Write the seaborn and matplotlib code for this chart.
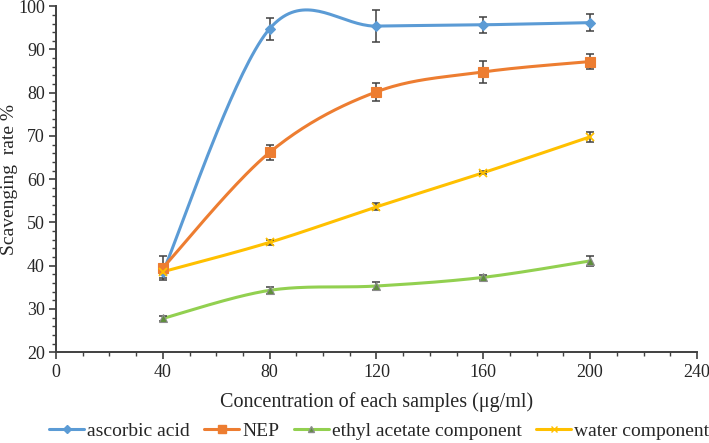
import numpy as np
import pandas as pd
import matplotlib
matplotlib.use("Agg")
import matplotlib.pyplot as plt
from matplotlib.lines import Line2D
from matplotlib.ticker import MultipleLocator
import seaborn as sns

konzentration = [40, 80, 120, 160, 200]
serien = ["ascorbic acid", "NEP", "ethyl acetate component", "water component"]
ascorbic = [38.5, 94.8, 95.4, 95.7, 96.2]
ascorbic_err = [1.4, 2.5, 3.7, 1.9, 2.0]
nep = [39.5, 66.2, 80.2, 84.8, 87.2]
nep_err = [2.7, 1.8, 2.1, 2.6, 1.8]
ethyl = [27.8, 34.3, 35.3, 37.3, 41.1]
ethyl_err = [0.6, 0.8, 0.9, 0.5, 1.2]
water = [38.6, 45.4, 53.6, 61.5, 69.8]
water_err = [0.6, 0.6, 0.8, 0.3, 1.2]

werte = [ascorbic, nep, ethyl, water]
fehler = [ascorbic_err, nep_err, ethyl_err, water_err]
farben = ["#5B9BD5", "#ED7D31", "#92D050", "#FFC000"]
marker = ["D", "s", "^", "x"]
marker_groesse = [5, 7, 6, 6]
marker_face = ["#5B9BD5", "#ED7D31", "#5E8F3A", "#FFC000"]
marker_edge = ["#5B9BD5", "#ED7D31", "#8C8C8C", "#FFC000"]


def glatte_kurve(x, y, n=40):
    """Excel-artige Glättung (Bezier mit Catmull-Rom-Kontrollpunkten)"""
    p = np.column_stack([x, y]).astype(float)
    xs, ys = [], []
    for i in range(len(p) - 1):
        p0 = p[i - 1] if i > 0 else p[i]
        p1, p2 = p[i], p[i + 1]
        p3 = p[i + 2] if i + 2 < len(p) else p[i + 1]
        c1 = p1 + (p2 - p0) / 6
        c2 = p2 - (p3 - p1) / 6
        t = np.linspace(0, 1, n)[:, None]
        b = (1 - t) ** 3 * p1 + 3 * (1 - t) ** 2 * t * c1 + 3 * (1 - t) * t ** 2 * c2 + t ** 3 * p2
        xs.extend(b[:, 0])
        ys.extend(b[:, 1])
    return np.array(xs), np.array(ys)


sns.set_style("ticks")
plt.rcParams["font.family"] = ["Liberation Serif", "DejaVu Serif"]

fig = plt.figure(figsize=(7.09, 4.43), dpi=100)
ax = fig.add_axes([0.079, 0.205, 0.904, 0.781])

kurven = []
for name, y in zip(serien, werte):
    kx, ky = glatte_kurve(konzentration, y)
    kurven.append(pd.DataFrame({"x": kx, "y": ky, "serie": name}))
df_kurven = pd.concat(kurven, ignore_index=True)

sns.lineplot(data=df_kurven, x="x", y="y", hue="serie", palette=dict(zip(serien, farben)),
             linewidth=2.2, sort=False, estimator=None, units="serie", legend=False, ax=ax)

for name, y, e, f, m, ms, mf, me in zip(serien, werte, fehler, farben, marker,
                                        marker_groesse, marker_face, marker_edge):
    ax.errorbar(konzentration, y, yerr=e, fmt="none", ecolor="#404040",
                elinewidth=1.1, capsize=3, capthick=1.1, zorder=3)
    ax.plot(konzentration, y, linestyle="none", marker=m, markersize=ms,
            markerfacecolor=mf, markeredgecolor=me, markeredgewidth=1.3 if m == "x" else 0.8, zorder=4)

ax.set_xlim(0, 240)
ax.set_ylim(20, 100)
ax.xaxis.set_major_locator(MultipleLocator(40))
ax.xaxis.set_minor_locator(MultipleLocator(10))
ax.yaxis.set_major_locator(MultipleLocator(10))
ax.yaxis.set_minor_locator(MultipleLocator(2))
ax.tick_params(axis="both", which="major", labelsize=13, length=5, color="#404040", width=1.2)
ax.tick_params(axis="y", which="major", pad=3)
ax.tick_params(axis="both", which="minor", length=3, color="#404040", width=1.0)
for s in ["top", "right"]:
    ax.spines[s].set_visible(False)
for s in ["left", "bottom"]:
    ax.spines[s].set_color("#404040")
    ax.spines[s].set_linewidth(1.4)

ax.set_xlabel("Concentration of each samples (\u03bcg/ml)", fontsize=14.5, labelpad=8)
ax.set_ylabel("Scavenging  rate %", fontsize=14)
ax.yaxis.set_label_coords(-0.059, 0.5)

handles = [Line2D([0], [0], color=f, linewidth=2.2, marker=m, markersize=ms - 1,
                  markerfacecolor=mf, markeredgecolor=me)
           for f, m, ms, mf, me in zip(farben, marker, marker_groesse, marker_face, marker_edge)]
fig.legend(handles, serien, loc="lower center", bbox_to_anchor=(0.535, -0.033), ncol=4,
           frameon=False, fontsize=14, handlelength=1.8, handletextpad=0.15, columnspacing=0.75)

plt.savefig("out.png", dpi=100)
